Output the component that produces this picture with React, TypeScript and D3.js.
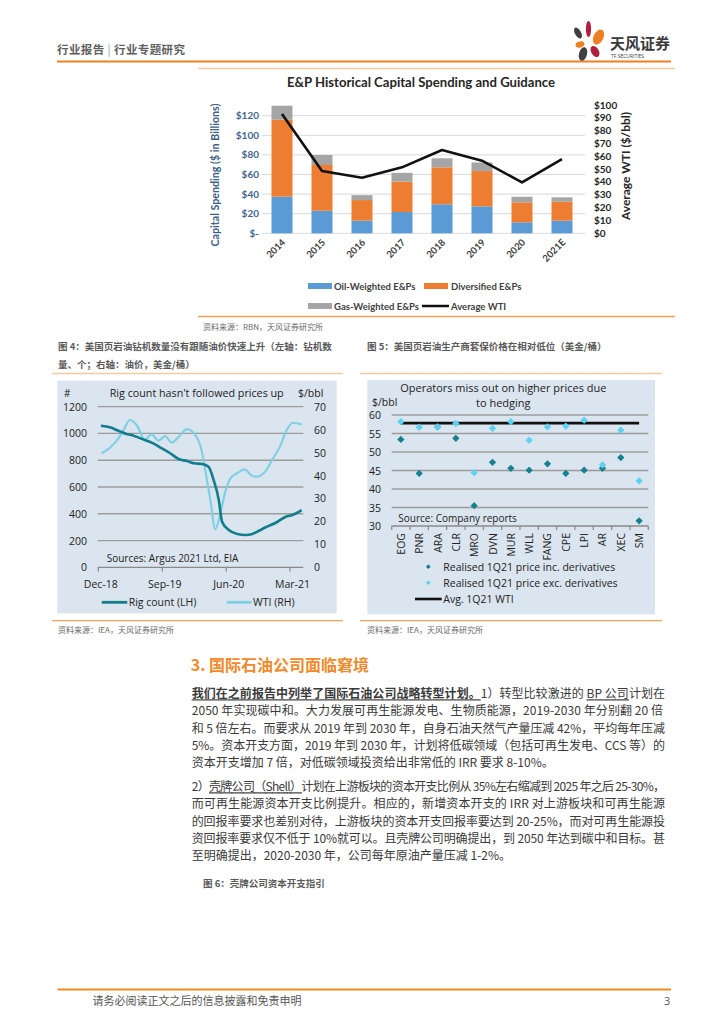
import React from "react";
import * as d3 from "d3";

// ---------- Chart 1 data ----------
const years = ["2014", "2015", "2016", "2017", "2018", "2019", "2020", "2021E"];
const oilWeighted = [37.4, 23, 12.9, 21.7, 29.6, 27.5, 11.2, 12.9];
const diversified = [78.5, 46.7, 21, 31, 37.7, 36, 20.4, 19.3];
const gasWeighted = [14.3, 10.2, 5, 9, 9.2, 8.8, 5.7, 4.5];
const avgWTI = [93, 48.6, 43.3, 51.4, 64.9, 56.6, 39.7, 57.9];
const capexTicks = [0, 20, 40, 60, 80, 100, 120];
const wtiTicks = [0, 10, 20, 30, 40, 50, 60, 70, 80, 90, 100];

// ---------- Chart 4 data ----------
const rigDates = ["2018-12-12", "2019-01-20", "2019-02-25", "2019-04-01", "2019-04-22", "2019-05-20", "2019-06-18", "2019-07-24", "2019-08-30", "2019-10-05", "2019-11-10", "2019-12-16", "2020-01-14", "2020-02-19", "2020-03-17", "2020-04-08", "2020-04-30", "2020-05-14", "2020-06-12", "2020-07-18", "2020-08-23", "2020-09-21", "2020-10-19", "2020-11-17", "2020-12-30", "2021-02-11", "2021-03-11", "2021-04-20"];
const rigCount = [1058, 1046, 1020, 996, 988, 971, 951, 926, 889, 852, 809, 794, 777, 772, 752, 652, 503, 341, 279, 249, 241, 249, 273, 299, 333, 378, 391, 428];
const wtiDates = ["2018-12-15", "2019-01-20", "2019-02-25", "2019-03-16", "2019-04-15", "2019-05-17", "2019-06-18", "2019-07-17", "2019-08-15", "2019-09-13", "2019-10-12", "2019-11-13", "2019-12-16", "2020-01-14", "2020-02-16", "2020-03-03", "2020-03-25", "2020-04-15", "2020-05-07", "2020-05-28", "2020-06-19", "2020-07-18", "2020-08-18", "2020-09-21", "2020-10-12", "2020-11-17", "2020-12-16", "2021-01-17", "2021-02-15", "2021-03-13", "2021-04-20"];
const wtiPrice = [49.7, 52.1, 56.2, 59.1, 64.2, 61.6, 55.5, 58, 55.2, 57.2, 54.3, 57.2, 60.2, 58.4, 51.1, 42.4, 29.3, 16.6, 23.5, 33, 38.8, 41, 42.7, 39.8, 39.5, 42, 47.1, 52.6, 59.9, 63, 62.3];
const rigTicks = [0, 200, 400, 600, 800, 1000, 1200];
const priceTicks = [0, 10, 20, 30, 40, 50, 60, 70];
const dateTicks = ["2018-12-01", "2019-09-01", "2020-06-01", "2021-03-01"];
const dateTickLabels = ["Dec-18", "Sep-19", "Jun-20", "Mar-21"];

// ---------- Chart 5 data ----------
const companies = ["EOG", "PNR", "ARA", "CLR", "MRO", "DVN", "MUR", "WLL", "FANG", "CPE", "LPI", "AR", "XEC", "SM"];
const incDerivatives = [53.4, 44.2, 56.8, 53.7, 35.5, 47.2, 45.6, 45.1, 46.8, 44.2, 45.1, 45.6, 48.5, 31.4];
const excDerivatives = [58.2, 56.7, 56.8, 57.7, 44.4, 56.4, 58.2, 53.2, 56.8, 57.0, 58.6, 46.5, 55.9, 42.2];
const avgWti1Q21 = 57.8;
const hedgeTicks = [30, 35, 40, 45, 50, 55, 60];

const CJK = '"Noto Sans CJK SC", sans-serif';
const CAL = 'Lato, "Open Sans", sans-serif';
const SEG = '"Open Sans", "Noto Sans", sans-serif';

const parse = d3.timeParse("%Y-%m-%d");

export default function App() {
  // ----- chart 1 -----
  const x1 = d3.scaleBand<string>().domain(years).range([262, 582]).paddingInner(0.475).paddingOuter(0.2375);
  const y1 = d3.scaleLinear().domain([0, 120]).range([233.3, 115.7]);
  const y1r = d3.scaleLinear().domain([0, 100]).range([233.3, 105]);
  const stackRows = years.map((y, i) => ({ year: y, oil: oilWeighted[i], div: diversified[i], gas: gasWeighted[i] }));
  const stacked = d3.stack<any>().keys(["oil", "div", "gas"])(stackRows);
  const barColors: Record<string, string> = { oil: "#5b9bd5", div: "#ed7d31", gas: "#a5a5a5" };
  const wtiPath = d3.line<number>()
    .x((_, i) => (x1(years[i]) as number) + x1.bandwidth() / 2)
    .y((d) => y1r(d))(avgWTI) as string;

  // ----- chart 4 -----
  const x4 = d3.scaleTime().domain([parse("2018-12-01")!, parse("2021-03-01")!]).range([98.3, 290]);
  const y4l = d3.scaleLinear().domain([0, 1200]).range([567.3, 406.7]);
  const y4r = d3.scaleLinear().domain([0, 70]).range([567.3, 406.7]);
  const rigPath = d3.line<number>()
    .x((_, i) => x4(parse(rigDates[i])!))
    .y((d) => y4l(d))
    .curve(d3.curveMonotoneX)(rigCount) as string;
  const wtiPath4 = d3.line<number>()
    .x((_, i) => x4(parse(wtiDates[i])!))
    .y((d) => y4r(d))
    .curve(d3.curveMonotoneX)(wtiPrice) as string;

  // ----- chart 5 -----
  const x5 = d3.scaleBand<string>().domain(companies).range([391.7, 648.3]).padding(0);
  const y5 = d3.scaleLinear().domain([30, 60]).range([526, 415]);
  const diamondType = (d3 as any).symbolDiamond2 || d3.symbolDiamond;
  const diamond = d3.symbol().type(diamondType).size(34)() as string;
  const diamondSmall = d3.symbol().type(diamondType).size(14)() as string;
  const cx5 = (c: string) => (x5(c) as number) + x5.bandwidth() / 2;

  const bodyX = 191.7;
  const bodyW = 473.3;
  const p1y = 698.3;
  const p2y = 791.3;
  const lh = 17.1;
  const bodyFill = "#3a3a3a";

  return (
    <svg width={724} height={1024} viewBox="0 0 724 1024" style={{ position: "absolute", left: 0, top: 0, background: "#fff" }}>
      <rect x={0} y={0} width={724} height={1024} fill="#fff" />

      {/* ===== Header ===== */}
      <text x={57} y={54} fontFamily={CJK} fontSize={11.5} fontWeight={700} fill="#5f5f5f" textLength={128} lengthAdjust="spacing">
        行业报告<tspan fill="#9a9a9a" fontWeight={400}> | </tspan>行业专题研究
      </text>
      <line x1={57} x2={671} y1={61.5} y2={61.5} stroke="#ee7f22" strokeWidth={1.8} />
      {/* logo */}
      <g>
        <ellipse cx={578} cy={33} rx={3} ry={6} fill="#404040" transform="rotate(-30 578 33)" />
        <ellipse cx={588.5} cy={29} rx={2.6} ry={8} fill="#b0203c" />
        <ellipse cx={598.5} cy={37} rx={5} ry={8} fill="#ee7f22" transform="rotate(25 598.5 37)" />
        <ellipse cx={580} cy={44.5} rx={4.5} ry={3} fill="#ee7f22" transform="rotate(-15 580 44.5)" />
        <ellipse cx={583} cy={54} rx={4} ry={7} fill="#404040" transform="rotate(15 583 54)" />
        <ellipse cx={595} cy={51.5} rx={3.8} ry={6} fill="#b0203c" transform="rotate(-30 595 51.5)" />
        <text x={610} y={49} fontFamily={CJK} fontSize={15} fontWeight={700} fill="#3a3a3a" textLength={60} lengthAdjust="spacingAndGlyphs">天风证券</text>
        <text x={611} y={58} fontFamily={SEG} fontSize={5} fill="#3a3a3a">TF SECURITIES</text>
      </g>

      {/* ===== Chart 1 ===== */}
      <line x1={198} x2={675} y1={68.5} y2={68.5} stroke="#f7c9a0" strokeWidth={1.5} />
      <text x={421} y={86.5} textAnchor="middle" fontFamily={CAL} fontWeight={700} fontSize={12.5} fill="#262626" textLength={268} lengthAdjust="spacingAndGlyphs">
        E&amp;P Historical Capital Spending and Guidance
      </text>
      {capexTicks.map((t) => (
        <g key={"g1" + t}>
          <line x1={262} x2={585} y1={y1(t)} y2={y1(t)} stroke="#d9d9d9" strokeWidth={1} />
          <text x={259} y={y1(t) + 3.5} textAnchor="end" fontFamily={CAL} fontWeight={700} fontSize={10} fill="#44658e">
            {t === 0 ? "$-" : `$${t}`}
          </text>
        </g>
      ))}
      {wtiTicks.map((t) => (
        <text key={"r1" + t} x={594} y={y1r(t) + 3.5} fontFamily={CAL} fontWeight={700} fontSize={10} fill="#262626">
          ${t}
        </text>
      ))}
      <text transform="translate(219,175) rotate(-90)" textAnchor="middle" fontFamily={CAL} fontWeight={700} fontSize={10.5} fill="#3f5f86" textLength={143} lengthAdjust="spacingAndGlyphs">
        Capital Spending ($ in Billions)
      </text>
      <text transform="translate(630,166) rotate(-90)" textAnchor="middle" fontFamily={CAL} fontWeight={700} fontSize={10.5} fill="#262626" textLength={108} lengthAdjust="spacingAndGlyphs">
        Average WTI ($/bbl)
      </text>
      {stacked.map((s) => (
        <g key={s.key} fill={barColors[s.key]}>
          {s.map((d, i) => (
            <rect key={i} x={x1(years[i])} width={x1.bandwidth()} y={y1(d[1])} height={y1(d[0]) - y1(d[1])} />
          ))}
        </g>
      ))}
      <path d={wtiPath} fill="none" stroke="#111" strokeWidth={2.6} strokeLinejoin="round" />
      {years.map((yr) => {
        const cx = (x1(yr) as number) + x1.bandwidth() / 2 + 4;
        return (
          <text key={"xl" + yr} transform={`translate(${cx},243) rotate(-45)`} textAnchor="end" fontFamily={CAL} fontWeight={700} fontSize={9.5} fill="#404040">
            {yr}
          </text>
        );
      })}
      {/* legend */}
      <rect x={308} y={283} width={24} height={6} fill="#5b9bd5" />
      <text x={334} y={289.5} fontFamily={CAL} fontWeight={700} fontSize={9.5} fill="#404040">Oil-Weighted E&amp;Ps</text>
      <rect x={424} y={283} width={24} height={6} fill="#ed7d31" />
      <text x={451} y={289.5} fontFamily={CAL} fontWeight={700} fontSize={9.5} fill="#404040">Diversified E&amp;Ps</text>
      <rect x={308} y={303} width={24} height={6} fill="#a5a5a5" />
      <text x={334} y={309.5} fontFamily={CAL} fontWeight={700} fontSize={9.5} fill="#404040">Gas-Weighted E&amp;Ps</text>
      <line x1={422} x2={449} y1={306} y2={306} stroke="#111" strokeWidth={2.5} />
      <text x={451} y={309.5} fontFamily={CAL} fontWeight={700} fontSize={9.5} fill="#404040">Average WTI</text>
      <line x1={198} x2={675} y1={316.5} y2={316.5} stroke="#f2a25a" strokeWidth={1.3} />
      <text x={203} y={330} fontFamily={CJK} fontSize={8} fill="#6a6a6a">资料来源：RBN，天风证券研究所</text>

      {/* ===== Captions ===== */}
      <text x={58} y={350} fontFamily={CJK} fontSize={9.5} fontWeight={700} fill="#5a5a5a">图 4：美国页岩油钻机数量没有跟随油价快速上升（左轴：钻机数</text>
      <text x={58} y={367.5} fontFamily={CJK} fontSize={9.5} fontWeight={700} fill="#5a5a5a">量、个；右轴：油价，美金/桶）</text>
      <line x1={52} x2={343} y1={373.5} y2={373.5} stroke="#f7c9a0" strokeWidth={1.3} />
      <text x={367} y={349.5} fontFamily={CJK} fontSize={9.5} fontWeight={700} fill="#5a5a5a">图 5：美国页岩油生产商套保价格在相对低位（美金/桶）</text>
      <line x1={360} x2={662} y1={373.5} y2={373.5} stroke="#f7c9a0" strokeWidth={1.3} />

      {/* ===== Chart 4 ===== */}
      <rect x={57.3} y={380.7} width={279.4} height={232.6} fill="#dbe5ef" />
      <text x={64} y={396.5} fontFamily={SEG} fontSize={10} fill="#222">#</text>
      <text x={196.7} y={397} textAnchor="middle" fontFamily={SEG} fontSize={11} fill="#222" textLength={174} lengthAdjust="spacingAndGlyphs">Rig count hasn't followed prices up</text>
      <text x={310.7} y={396.5} textAnchor="middle" fontFamily={SEG} fontSize={10.5} fill="#222">$/bbl</text>
      {rigTicks.map((t) => (
        <g key={"rt" + t}>
          {t > 0 && <line x1={97.7} x2={303.3} y1={y4l(t)} y2={y4l(t)} stroke="#9c9c9c" strokeWidth={1.3} />}
          <text x={87} y={y4l(t) + 4} textAnchor="end" fontFamily={SEG} fontSize={10.5} fill="#222">{t}</text>
        </g>
      ))}
      {priceTicks.map((t) => (
        <text key={"pt" + t} x={314} y={y4r(t) + 4} fontFamily={SEG} fontSize={10.5} fill="#222">{t}</text>
      ))}
      <line x1={97.7} x2={303.3} y1={567.3} y2={567.3} stroke="#8a8a8a" strokeWidth={1.3} />
      {dateTicks.map((d, i) => {
        const xx = x4(parse(d)!);
        return (
          <g key={"dt" + d}>
            <line x1={xx} x2={xx} y1={567.3} y2={571.5} stroke="#8a8a8a" strokeWidth={1.2} />
            <text x={xx + 2.5} y={588} textAnchor="middle" fontFamily={SEG} fontSize={10.5} fill="#222">{dateTickLabels[i]}</text>
          </g>
        );
      })}
      <text x={106.7} y={562} fontFamily={SEG} fontSize={10} fill="#222">Sources: Argus 2021 Ltd, EIA</text>
      <path d={wtiPath4} fill="none" stroke="#80d0e3" strokeWidth={2.2} strokeLinejoin="round" />
      <path d={rigPath} fill="none" stroke="#127d8c" strokeWidth={2.6} strokeLinejoin="round" />
      <line x1={101.7} x2={127.3} y1={602.3} y2={602.3} stroke="#127d8c" strokeWidth={2.8} />
      <text x={128.7} y={606} fontFamily={SEG} fontSize={10.5} fill="#222">Rig count (LH)</text>
      <line x1={226.7} x2={251.7} y1={602.3} y2={602.3} stroke="#80d0e3" strokeWidth={2.8} />
      <text x={253} y={606} fontFamily={SEG} fontSize={10.5} fill="#222">WTI (RH)</text>
      <line x1={52} x2={343} y1={620.7} y2={620.7} stroke="#f2a25a" strokeWidth={1.3} />
      <text x={58} y={633} fontFamily={CJK} fontSize={8} fill="#6a6a6a">资料来源：IEA，天风证券研究所</text>

      {/* ===== Chart 5 ===== */}
      <rect x={367.3} y={380} width={287.7} height={234.3} fill="#dbe5ef" />
      <text x={503.3} y={391.5} textAnchor="middle" fontFamily={SEG} fontSize={11} fill="#222" textLength={206} lengthAdjust="spacingAndGlyphs">Operators miss out on higher prices due</text>
      <text x={503.3} y={407} textAnchor="middle" fontFamily={SEG} fontSize={11} fill="#222">to hedging</text>
      <text x={372} y={405.5} fontFamily={SEG} fontSize={10.5} fill="#222">$/bbl</text>
      {hedgeTicks.map((t) => (
        <g key={"ht" + t}>
          {t > 30 && <line x1={391.7} x2={648.3} y1={y5(t)} y2={y5(t)} stroke="#9c9c9c" strokeWidth={1.3} />}
          <text x={381} y={y5(t) + 4} textAnchor="end" fontFamily={SEG} fontSize={10.5} fill="#222">{t}</text>
        </g>
      ))}
      <line x1={391.7} x2={648.3} y1={526} y2={526} stroke="#8a8a8a" strokeWidth={1.3} />
      {companies.concat(["__end"]).map((c, i) => {
        const xx = i < companies.length ? (x5(c) as number) : 648.3;
        return <line key={"ct" + i} x1={xx} x2={xx} y1={526} y2={530} stroke="#8a8a8a" strokeWidth={1.2} />;
      })}
      {companies.map((c) => (
        <text key={"cl" + c} transform={`translate(${cx5(c) + 4},533) rotate(-90)`} textAnchor="end" fontFamily={SEG} fontSize={10.5} fill="#222">
          {c}
        </text>
      ))}
      <text x={398.3} y={522} fontFamily={SEG} fontSize={10} fill="#222">Source: Company reports</text>
      <line x1={cx5(companies[0])} x2={cx5(companies[companies.length - 1])} y1={y5(avgWti1Q21)} y2={y5(avgWti1Q21)} stroke="#111" strokeWidth={2.6} />
      {companies.map((c, i) => (
        <path key={"inc" + c} d={diamond} transform={`translate(${cx5(c)},${y5(incDerivatives[i])})`} fill="#17808e" />
      ))}
      {companies.map((c, i) => (
        <path key={"exc" + c} d={diamond} transform={`translate(${cx5(c)},${y5(excDerivatives[i])})`} fill="#5cd2f2" />
      ))}
      <path d={diamondSmall} transform="translate(428.3,566.7)" fill="#17808e" />
      <text x={443.3} y={570.5} fontFamily={SEG} fontSize={10.5} fill="#222">Realised 1Q21 price inc. derivatives</text>
      <path d={diamondSmall} transform="translate(428.3,582.7)" fill="#5cd2f2" />
      <text x={443.3} y={586.5} fontFamily={SEG} fontSize={10.5} fill="#222">Realised 1Q21 price exc. derivatives</text>
      <line x1={415} x2={441.7} y1={599} y2={599} stroke="#111" strokeWidth={2.6} />
      <text x={443.3} y={603} fontFamily={SEG} fontSize={10.5} fill="#222">Avg. 1Q21 WTI</text>
      <line x1={360} x2={662} y1={620.7} y2={620.7} stroke="#f2a25a" strokeWidth={1.3} />
      <text x={367} y={633} fontFamily={CJK} fontSize={8} fill="#6a6a6a">资料来源：IEA，天风证券研究所</text>

      {/* ===== Section ===== */}
      <text x={190.7} y={671} fontFamily={CJK} fontSize={16} fontWeight={700} fill="#f08a2a">3. 国际石油公司面临窘境</text>

      <g fontFamily={CJK} fontSize={12} fill={bodyFill}>
        <text x={bodyX} y={p1y} textLength={bodyW} lengthAdjust="spacing">
          <tspan fontWeight={700} textDecoration="underline">我们在之前报告中列举了国际石油公司战略转型计划。</tspan>
          <tspan>1）转型比较激进的 </tspan>
          <tspan textDecoration="underline">BP 公司</tspan>
          <tspan>计划在</tspan>
        </text>
        <text x={bodyX} y={p1y + lh} textLength={bodyW - 2} lengthAdjust="spacing">2050 年实现碳中和。大力发展可再生能源发电、生物质能源，2019-2030 年分别翻 20 倍</text>
        <text x={bodyX} y={p1y + lh * 2} textLength={bodyW} lengthAdjust="spacing">和 5 倍左右。而要求从 2019 年到 2030 年，自身石油天然气产量压减 42%，平均每年压减</text>
        <text x={bodyX} y={p1y + lh * 3} textLength={bodyW} lengthAdjust="spacing">5%。资本开支方面，2019 年到 2030 年，计划将低碳领域（包括可再生发电、CCS 等）的</text>
        <text x={bodyX} y={p1y + lh * 4}>资本开支增加 7 倍，对低碳领域投资给出非常低的 IRR 要求 8-10%。</text>

        <text x={bodyX} y={p2y} textLength={bodyW} lengthAdjust="spacing">
          <tspan>2）</tspan>
          <tspan textDecoration="underline">壳牌公司（Shell）</tspan>
          <tspan>计划在上游板块的资本开支比例从 35%左右缩减到 2025 年之后 25-30%，</tspan>
        </text>
        <text x={bodyX} y={p2y + lh} textLength={bodyW} lengthAdjust="spacing">而可再生能源资本开支比例提升。相应的，新增资本开支的 IRR 对上游板块和可再生能源</text>
        <text x={bodyX} y={p2y + lh * 2} textLength={bodyW} lengthAdjust="spacing">的回报率要求也差别对待，上游板块的资本开支回报率要达到 20-25%，而对可再生能源投</text>
        <text x={bodyX} y={p2y + lh * 3} textLength={bodyW} lengthAdjust="spacing">资回报率要求仅不低于 10%就可以。且壳牌公司明确提出，到 2050 年达到碳中和目标。甚</text>
        <text x={bodyX} y={p2y + lh * 4}>至明确提出，2020-2030 年，公司每年原油产量压减 1-2%。</text>
      </g>

      <text x={203} y={886.5} fontFamily={CJK} fontSize={9.5} fontWeight={700} fill="#5a5a5a">图 6：壳牌公司资本开支指引</text>

      {/* ===== Footer ===== */}
      <line x1={57.5} x2={671} y1={989.5} y2={989.5} stroke="#ee8a1e" strokeWidth={1.8} />
      <text x={92.6} y={1004.5} fontFamily={CJK} fontSize={11} fill="#555">请务必阅读正文之后的信息披露和免责申明</text>
      <text x={664} y={1004.5} fontFamily={SEG} fontSize={11} fill="#555">3</text>
    </svg>
  );
}
